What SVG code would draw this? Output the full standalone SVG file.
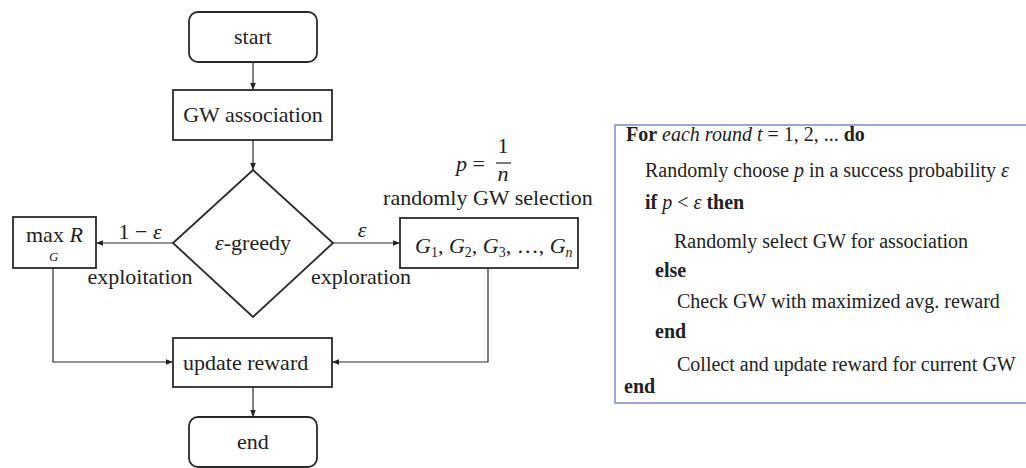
<svg xmlns="http://www.w3.org/2000/svg" width="1026" height="468" viewBox="0 0 1026 468" font-family="'Liberation Serif', 'Times New Roman', serif">
  <defs>
    <marker id="arrow" viewBox="0 0 10 10" refX="10" refY="5" markerWidth="7" markerHeight="7" markerUnits="userSpaceOnUse" orient="auto">
      <path d="M0,1 L10,5 L0,9 Z" fill="#222"/>
    </marker>
    <style>
      .box { fill: #fff; stroke: #2a2a2a; stroke-width: 1.8; }
      .conn { fill: none; stroke: #2a2a2a; stroke-width: 1.2; marker-end: url(#arrow); }
      .t { font-size: 22px; fill: #222; }
      .m { font-style: italic; }
      .c { text-anchor: middle; }
      .alg { font-size: 20px; fill: #222; }
      .b { font-weight: bold; }
      .i { font-style: italic; }
      .panel { fill: #fff; stroke: #8193c6; stroke-width: 1.6; }
    </style>
  </defs>
  <rect width="1026" height="468" fill="#fff"/>

  <!-- connectors -->
  <g id="connectors">
    <line class="conn" x1="253" y1="62" x2="253" y2="90"/>
    <line class="conn" x1="253" y1="140" x2="253" y2="170"/>
    <line class="conn" x1="173" y1="243" x2="96" y2="243"/>
    <line class="conn" x1="333" y1="243" x2="400" y2="243"/>
    <polyline class="conn" points="53,268 53,362 173,362"/>
    <polyline class="conn" points="488,268 488,362 332,362"/>
    <line class="conn" x1="253" y1="387" x2="253" y2="417"/>
  </g>

  <!-- edge labels -->
  <g id="edge-labels" class="t">
    <text x="140" y="239" class="c">1 − <tspan class="m">ε</tspan></text>
    <text x="140" y="284" class="c">exploitation</text>
    <text x="362" y="237" class="c m">ε</text>
    <text x="361" y="284" class="c">exploration</text>
  </g>

  <g id="start">
    <rect class="box" x="189" y="12" width="128" height="50" rx="9"/>
    <text class="t c" x="253" y="44">start</text>
  </g>

  <g id="gw-association">
    <rect class="box" x="173" y="90" width="159" height="50"/>
    <text class="t c" x="253" y="122">GW association</text>
  </g>

  <g id="epsilon-greedy">
    <polygon class="box" points="253,170 333,243 253,317 173,243"/>
    <text class="t c" x="253" y="250"><tspan class="m">ε</tspan>-greedy</text>
  </g>

  <g id="max-reward">
    <rect class="box" x="13" y="217" width="83" height="51"/>
    <text class="t" x="26" y="242">max <tspan class="m">R</tspan></text>
    <text class="m" x="49" y="261" font-size="13" fill="#222">G</text>
  </g>

  <g id="random-selection">
    <rect class="box" x="400" y="218" width="178" height="50"/>
    <text class="t" x="415" y="253"><tspan class="m">G</tspan><tspan font-size="14" dy="4">1</tspan><tspan dy="-4">, </tspan><tspan class="m">G</tspan><tspan font-size="14" dy="4">2</tspan><tspan dy="-4">, </tspan><tspan class="m">G</tspan><tspan font-size="14" dy="4">3</tspan><tspan dy="-4">, …, </tspan><tspan class="m">G</tspan><tspan class="m" font-size="14" dy="4">n</tspan></text>
    <text class="t c" x="488" y="205">randomly GW selection</text>
    <text class="t" x="456" y="171"><tspan class="m">p</tspan> =</text>
    <text class="t c" x="503" y="153" font-size="20">1</text>
    <line x1="496" y1="163" x2="511" y2="163" stroke="#222" stroke-width="1.2"/>
    <text class="t c m" x="503" y="181" font-size="20">n</text>
  </g>

  <g id="update-reward">
    <rect class="box" x="173" y="338" width="159" height="49"/>
    <text class="t" x="183" y="370">update reward</text>
  </g>

  <g id="end">
    <rect class="box" x="189" y="417" width="128" height="50" rx="9"/>
    <text class="t c" x="253" y="449">end</text>
  </g>

  <!-- algorithm listing -->
  <g id="algorithm">
    <rect class="panel" x="615" y="125" width="420" height="278"/>
    <g class="alg">
      <text x="626" y="141"><tspan class="b">For</tspan> <tspan class="i">each round t</tspan> = 1, 2, ... <tspan class="b">do</tspan></text>
      <text x="645" y="177">Randomly choose <tspan class="i">p</tspan> in a success probability <tspan class="i">ε</tspan></text>
      <text x="645" y="209"><tspan class="b">if</tspan> <tspan class="i">p</tspan> &lt; <tspan class="i">ε</tspan> <tspan class="b">then</tspan></text>
      <text x="674" y="248">Randomly select GW for association</text>
      <text x="655" y="277" class="b">else</text>
      <text x="677" y="308">Check GW with maximized avg. reward</text>
      <text x="655" y="338" class="b">end</text>
      <text x="677" y="371">Collect and update reward for current GW</text>
      <text x="624" y="393" class="b">end</text>
    </g>
  </g>
</svg>
